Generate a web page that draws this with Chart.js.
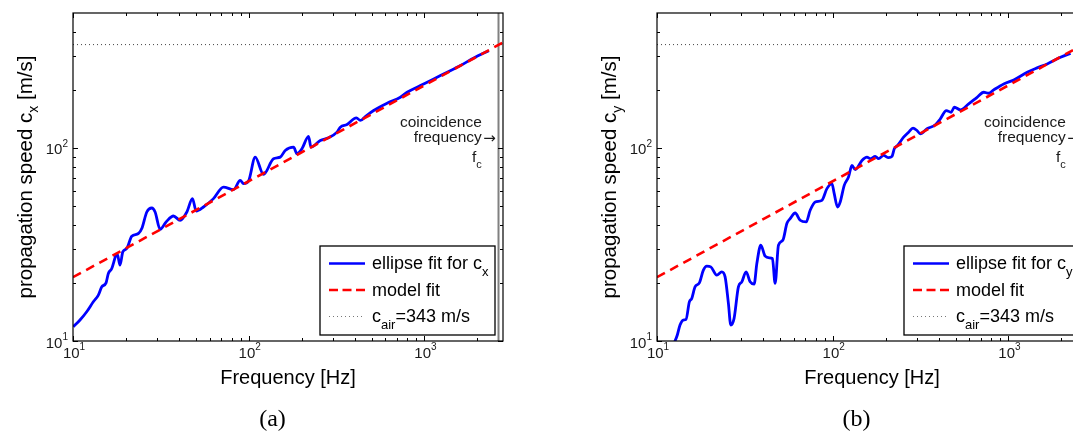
<!DOCTYPE html>
<html><head><meta charset="utf-8">
<script src="https://cdn.jsdelivr.net/npm/chart.js@4/dist/chart.umd.min.js"></script>
<style>
html,body{margin:0;padding:0;background:#fff;overflow:hidden;width:1073px;height:432px;position:relative;}
.wrap{position:absolute;top:0;width:540px;height:432px;}
#wa{left:0px} #wb{left:584px}
canvas{display:block}
</style></head><body>
<div class="wrap" id="wa"><canvas id="ca" width="540" height="432"></canvas></div>
<div class="wrap" id="wb"><canvas id="cb" width="540" height="432"></canvas></div>
<script>
// ---- data ----
const freqA = [10.04,10.96,11.97,13.05,13.94,14.58,15.42,15.89,16.62,17.58,17.88,18.52,19.2,20.23,21.6,23.56,24.63,26.3,28.08,29.33,31.31,33.88,37.29,40.71,44.45,47.84,50.22,55.27,63.01,71.85,81.93,89.47,93.41,99.75,108.9,121.4,138.4,151.2,161.4,180.0,188.2,200.9,219.1,226.1,255.5,284.9,318.1,332.2,362.6,409.8,431.9,461.1,514.2,613.1,729.6,797.1,948.9,1130,1347,1604,1910,2325];
const speedA = [11.86,12.84,14.17,15.96,17.29,19.08,20.01,22.38,23.75,27.83,28.16,24.71,28.94,30.14,34.88,36.03,38.23,46.58,48.85,46.58,37.91,41.36,44.42,42.2,46.58,54.64,47.13,49.44,54.64,62.7,60.81,67.92,65.31,67.35,89.63,72.95,87.94,89.63,97.07,100.9,93.33,99.06,114.7,100.9,109.3,112.9,120.7,128.1,132.3,143.3,138.8,145.5,156.2,170.4,183.0,194.3,210.4,227.9,246.5,267.0,292.6,319.1];
const freqB = [12.5,13.05,13.52,14.12,14.63,15.28,15.77,16.46,17.42,18.36,19.2,20.23,21.88,23.37,24.41,25.49,26.3,27.46,29.06,30.39,32.15,33.88,35.7,37.0,38.99,41.25,43.64,45.39,47.02,49.11,52.03,54.83,57.26,61.14,65.28,70.63,74.43,79.49,86.8,92.69,98.95,102.0,106.5,110.3,116.3,123.0,128.7,134.4,146.7,156.6,163.6,174.6,182.4,194.8,208.0,217.5,224.1,234.0,253.2,270.3,286.4,301.8,315.2,344.2,383.8,409.8,443.4,471.6,492.5,532.7,594.0,663.1,723.3,772.2,824.6,940.2,1072,1278,1457,1662,1979,2256];
const speedB = [9.7,10.74,12.1,12.84,12.95,15.96,16.62,19.08,20.01,23.28,24.42,24.21,21.93,22.81,21.49,15.66,12.1,13.1,19.08,20.25,22.81,20.25,19.7,25.2,31.34,27.5,26.95,26.76,19.87,31.34,33.27,40.58,43.06,46.03,42.2,41.36,47.53,52.47,53.54,61.54,65.31,57.98,49.44,52.47,64.01,70.65,81.21,77.15,86.17,89.63,87.94,90.39,87.94,91.46,88.99,90.39,99.06,103.0,113.7,120.7,126.6,123.1,118.4,125.7,131.8,141.6,156.2,153.1,162.5,157.5,169.2,183.0,194.3,192.0,199.9,214.7,225.1,246.5,259.8,272.4,294.7,309.0];
const modelFreq = [10, 2800];
const modelSpeed = [21.4, 352];
const airFreq = [10, 2800];
const airSpeed = [343, 343];
const fcFreq = [2640, 2640];
const fcSpeed = [10, 500];
const xMajorTicks = [10, 100, 1000];
const xMinorTicks = [20,30,40,50,60,70,80,90,200,300,400,500,600,700,800,900,2000];
const yMajorTicks = [10, 100];
const yMinorTicks = [20,30,40,50,60,70,80,90,200,300,400];
const xTickExp = ['1','2','3'];
const yTickExp = ['1','2'];

const FONT = '"Liberation Sans", Arial, Helvetica, sans-serif';

function pts(xs, ys){ return xs.map((v,i)=>({x:v, y:ys[i]})); }

function rich(ctx, parts, x, y, align){
  let total = 0;
  parts.forEach(p=>{ ctx.font = p.size + 'px ' + FONT; p.w = ctx.measureText(p.text).width; total += p.w; });
  let sx = align==='center' ? x-total/2 : (align==='right' ? x-total : x);
  ctx.textAlign = 'left';
  ctx.textBaseline = 'alphabetic';
  parts.forEach(p=>{ ctx.font = p.size + 'px ' + FONT; ctx.fillText(p.text, sx, y + (p.dy||0)); sx += p.w; });
}

const matFrame = {
  id: 'matFrame',
  afterDatasetsDraw(chart, args, opts){
    const ctx = chart.ctx, a = chart.chartArea, xs = chart.scales.x, ys = chart.scales.y;
    const L = a.left, R = a.right, T = a.top, B = a.bottom;
    ctx.save();
    // legend box
    const lx0 = L + 247, lx1 = R - 8, ly0 = 246, ly1 = 335;
    ctx.fillStyle = '#fff';
    ctx.fillRect(lx0, ly0, lx1-lx0, ly1-ly0);
    ctx.strokeStyle = '#000'; ctx.lineWidth = 1.3; ctx.setLineDash([]);
    ctx.strokeRect(lx0, ly0, lx1-lx0, ly1-ly0);
    const sx0 = L + 256, sx1 = L + 292, tx = L + 299;
    const rows = [263.5, 290, 316.5];
    // sample lines
    ctx.lineWidth = 2.5; ctx.strokeStyle = '#0000ff';
    ctx.beginPath(); ctx.moveTo(sx0, rows[0]); ctx.lineTo(sx1, rows[0]); ctx.stroke();
    ctx.strokeStyle = '#ff0000'; ctx.setLineDash([9,4.5]);
    ctx.beginPath(); ctx.moveTo(sx0, rows[1]); ctx.lineTo(sx1, rows[1]); ctx.stroke();
    ctx.strokeStyle = '#777'; ctx.lineWidth = 1; ctx.setLineDash([1,3]);
    ctx.beginPath(); ctx.moveTo(sx0, rows[2]); ctx.lineTo(sx1, rows[2]); ctx.stroke();
    ctx.setLineDash([]);
    ctx.fillStyle = '#000';
    rich(ctx, [{text:'ellipse fit for c', size:18},{text:opts.sub, size:13, dy:7}], tx, rows[0]+5, 'left');
    rich(ctx, [{text:'model fit', size:18}], tx, rows[1]+5.5, 'left');
    rich(ctx, [{text:'c', size:18},{text:'air', size:13, dy:7},{text:'=343 m/s', size:18}], tx, rows[2]+5.5, 'left');

    // frame
    ctx.strokeStyle = '#000'; ctx.lineWidth = 1.2;
    ctx.strokeRect(L, T, R-L, B-T);
    // ticks
    ctx.lineWidth = 1;
    ctx.beginPath();
    const xt = (vals, len)=>vals.forEach(v=>{ const p = Math.round(xs.getPixelForValue(v))+0.5;
      ctx.moveTo(p, B); ctx.lineTo(p, B-len); ctx.moveTo(p, T); ctx.lineTo(p, T+len); });
    const yt = (vals, len)=>vals.forEach(v=>{ const p = Math.round(ys.getPixelForValue(v))+0.5;
      ctx.moveTo(L, p); ctx.lineTo(L+len, p); ctx.moveTo(R, p); ctx.lineTo(R-len, p); });
    xt(xMajorTicks, 5); xt(xMinorTicks, 3);
    yt(yMajorTicks, 5); yt(yMinorTicks, 3);
    ctx.stroke();
    // tick labels
    ctx.fillStyle = '#1a1a1a';
    xMajorTicks.forEach((v,i)=>{
      const p = xs.getPixelForValue(v);
      rich(ctx, [{text:'10', size:15},{text:xTickExp[i], size:10, dy:-8.5}], p+1, B+17, 'center');
    });
    yMajorTicks.forEach((v,i)=>{
      const p = ys.getPixelForValue(v);
      rich(ctx, [{text:'10', size:15},{text:yTickExp[i], size:10, dy:-7.5}], L-5, p+6.5, 'right');
    });
    // axis titles
    ctx.fillStyle = '#000';
    rich(ctx, [{text:'Frequency [Hz]', size:20}], (L+R)/2, B+43, 'center');
    ctx.save();
    ctx.translate(L-41, (T+B)/2);
    ctx.rotate(-Math.PI/2);
    rich(ctx, [{text:'propagation speed c', size:20.5},{text:opts.sub, size:14, dy:6},{text:' [m/s]', size:20.5}], 0, 0, 'center');
    ctx.restore();
    // coincidence annotation
    const fx = xs.getPixelForValue(fcFreq[0]);
    const rx = fx - 16.7;
    ctx.fillStyle = '#1a1a1a';
    rich(ctx, [{text:'coincidence', size:15.5}], rx, 126.5, 'right');
    rich(ctx, [{text:'frequency', size:15.5}], rx, 142, 'right');
    ctx.font = '15px "DejaVu Sans"'; ctx.textAlign = 'left';
    ctx.fillText('\u2192', rx + 1.5, 143);
    rich(ctx, [{text:'f', size:15.5},{text:'c', size:11, dy:6}], rx, 161.5, 'right');
    // caption
    ctx.fillStyle = '#000';
    ctx.font = '24px "Liberation Serif", "DejaVu Serif", serif';
    ctx.textAlign = 'center';
    ctx.fillText(opts.caption, L + 199.5, 426);
    ctx.restore();
  }
};

function makeChart(id, freq, speed, sub, caption){
  return new Chart(document.getElementById(id), {
    type: 'line',
    data: { datasets: [
      {label:'model fit', data: pts(modelFreq, modelSpeed), borderColor:'#ff0000', borderWidth:2.6, borderDash:[9,6], pointRadius:0, fill:false},
      {label:'ellipse fit', data: pts(freq, speed), borderColor:'#0000ff', borderWidth:2.8, pointRadius:0, fill:false, cubicInterpolationMode:'monotone'},
      {label:'c_air', data: pts(airFreq, airSpeed), borderColor:'#444', borderWidth:1, borderDash:[1,3], pointRadius:0, fill:false},
      {label:'fc', data: pts(fcFreq, fcSpeed), borderColor:'#808080', borderWidth:2, pointRadius:0, fill:false}
    ]},
    options: {
      responsive:false, animation:false, events:[],
      layout:{padding:{left:73, top:13, right:37, bottom:91}},
      scales:{
        x:{type:'logarithmic', min:10, max:2800, display:false},
        y:{type:'logarithmic', min:10, max:500, display:false}
      },
      plugins:{legend:{display:false}, tooltip:{enabled:false}, matFrame:{sub:sub, caption:caption}}
    },
    plugins:[matFrame]
  });
}
makeChart('ca', freqA, speedA, 'x', '(a)');
makeChart('cb', freqB, speedB, 'y', '(b)');
</script>
</body></html>
